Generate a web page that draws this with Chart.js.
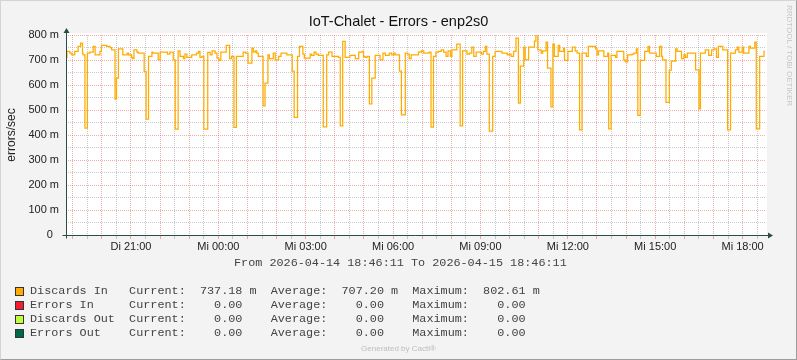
<!DOCTYPE html>
<html>
<head>
<meta charset="utf-8">
<script src="https://cdn.jsdelivr.net/npm/chart.js@4.4.1/dist/chart.umd.min.js"></script>
<style>
  html, body { margin: 0; padding: 0; background: #fff; }
  #frame { position: relative; width: 797px; height: 360px; background: #f3f3f3; overflow: hidden;
           font-family: "Liberation Sans", Arial, sans-serif; }
  #chart { position: absolute; left: 0; top: 0; }
  #edge { position: absolute; left: 0; top: 0; width: 797px; height: 360px; box-sizing: border-box;
          border: 1px solid; border-color: #d4d4d4 #9c9c9c #9c9c9c #d4d4d4; pointer-events: none; }
  .mono { position: absolute; font-family: "Liberation Mono", "DejaVu Sans Mono", monospace;
          font-size: 11.8px; line-height: 14px; color: #444; white-space: pre; }
  #range { left: 234px; top: 256px; }
  #legend { left: 15px; top: 284px; }
  .row { position: relative; height: 14px; }
  .swatch { position: absolute; left: 0; top: 3px; width: 7px; height: 7px; border: 1px solid #333; }
  .row span.txt { position: absolute; left: 15px; top: 0; }
  #cacti { position: absolute; left: 0; width: 797px; top: 344px; text-align: center;
           font-size: 8px; line-height: 10px; color: #bdbdbd; }
  #rrd { position: absolute; left: 784px; top: 5px; writing-mode: vertical-rl; font-size: 8px;
         line-height: 10px; color: #c6c6c6; white-space: nowrap; }
</style>
</head>
<body>
<div id="frame">
  <canvas id="chart" width="797" height="360"></canvas>
  <div id="range" class="mono"></div>
  <div id="legend" class="mono"></div>
  <div id="cacti">Generated by Cacti®</div>
  <div id="rrd">RRDTOOL / TOBI OETIKER</div>
  <div id="edge"></div>
</div>
<script>
// Discards In, minutes after 2026-04-14 18:46:11 (value holds until next entry), in milli errors/sec
const discardsInMin = [
    0, 2, 8, 12, 18, 25, 30, 34, 35, 39,
    44, 49, 56, 60, 70, 73, 84, 91, 94, 101,
    104, 108, 117, 126, 129, 135, 137, 140, 146, 149,
    161, 165, 170, 177, 179, 190, 194, 209, 214, 221,
    225, 231, 235, 242, 245, 249, 259, 269, 273, 276,
    280, 284, 292, 297, 301, 307, 311, 315, 319, 330,
    337, 341, 346, 351, 365, 370, 375, 383, 386, 390,
    393, 396, 406, 410, 416, 419, 427, 431, 438, 443,
    455, 466, 470, 477, 481, 488, 491, 503, 506, 511,
    515, 520, 530, 537, 541, 548, 561, 565, 570, 575,
    585, 596, 603, 610, 613, 616, 620, 625, 630, 637,
    647, 653, 658, 666, 671, 675, 678, 687, 691, 699,
    704, 707, 711, 726, 732, 737, 748, 752, 757, 762,
    767, 773, 778, 783, 787, 792, 795, 805, 812, 817,
    826, 831, 836, 840, 845, 856, 860, 864, 867, 872,
    879, 884, 898, 909, 913, 917, 922, 927, 932, 936,
    943, 946, 953, 965, 968, 972, 979, 982, 989, 992,
    999, 1003, 1006, 1014, 1017, 1025, 1027, 1034, 1043, 1049,
    1053, 1058, 1063, 1072, 1076, 1091, 1094, 1097, 1108, 1116,
    1118, 1123, 1132, 1135, 1149, 1152, 1157, 1166, 1170, 1175,
    1178, 1183, 1192, 1199, 1202, 1216, 1223, 1227, 1229, 1236,
    1243, 1247, 1256, 1259, 1268, 1273, 1276, 1280, 1297, 1304,
    1307, 1317, 1324, 1330, 1335, 1340, 1344, 1353, 1363, 1369,
    1379, 1383, 1386, 1393, 1396, 1407, 1410, 1419, 1422, 1429,
    1438, 1440
];
const discardsIn = [
    711, 735, 728, 721, 735, 755, 768, 728, 721, 428,
    728, 732, 755, 721, 735, 759, 755, 750, 741, 544,
    628, 745, 721, 728, 721, 711, 706, 741, 732, 728,
    655, 464, 715, 732, 728, 701, 732, 724, 732, 701,
    424, 737, 715, 706, 724, 711, 721, 728, 735, 711,
    715, 424, 731, 721, 737, 728, 708, 699, 732, 759,
    706, 715, 431, 715, 732, 728, 688, 748, 732, 737,
    728, 715, 517, 608, 721, 706, 728, 701, 715, 728,
    721, 656, 471, 715, 755, 724, 708, 724, 719, 732,
    724, 719, 433, 721, 732, 715, 711, 437, 775, 711,
    719, 706, 732, 735, 715, 711, 715, 525, 628, 719,
    701, 728, 719, 728, 721, 728, 721, 656, 481, 728,
    724, 706, 721, 732, 737, 728, 732, 432, 715, 732,
    735, 741, 732, 715, 737, 715, 741, 764, 437, 737,
    724, 728, 752, 715, 732, 724, 735, 755, 724, 416,
    715, 735, 728, 721, 724, 715, 735, 788, 528, 676,
    752, 701, 752, 776, 802.61, 741, 728, 737, 772, 668,
    513, 764, 715, 759, 735, 748, 699, 735, 752, 737,
    728, 421, 728, 715, 755, 745, 721, 737, 715, 728,
    425, 719, 711, 735, 701, 693, 721, 724, 728, 745,
    479, 699, 735, 755, 728, 715, 755, 715, 701, 531,
    660, 696, 745, 735, 706, 721, 711, 728, 661, 505,
    728, 741, 719, 741, 745, 711, 755, 741, 421, 728,
    741, 752, 732, 752, 728, 755, 748, 772, 425, 715,
    735, 737
];

const startClock = 18 + 46 / 60 + 11 / 3600;   // 18:46:11
const labelHours = [21, 24, 27, 30, 33, 36, 39, 42];
const timeLabels = ["Di 21:00", "Mi 00:00", "Mi 03:00", "Mi 06:00", "Mi 09:00", "Mi 12:00", "Mi 15:00", "Mi 18:00"];
const yTickValues = [0, 100, 200, 300, 400, 500, 600, 700, 800];

const legendNames = ["Discards In", "Errors In", "Discards Out", "Errors Out"];
const legendColors = ["#FFAB00", "#F51D30", "#C4FD3D", "#00694A"];
const legendCurrent = ["737.18 m", "0.00", "0.00", "0.00"];
const legendAverage = ["707.20 m", "0.00", "0.00", "0.00"];
const legendMaximum = ["802.61 m", "0.00", "0.00", "0.00"];

const MAJOR_GRID = "rgba(225, 70, 70, 0.45)";
const MINOR_GRID = "rgba(150, 150, 150, 0.5)";
const AXIS_COLOR = "#2C4D43";

// half hour grid, red on full hours
const gridHours = [];
for (let h = 19; h <= 42.5; h += 0.5) gridHours.push(h);
const toMin = h => (h - startClock) * 60;
function isFullHour(v) {
    const f = (v / 60 + startClock) % 1;
    return f < 0.01 || f > 0.99;
}

const plotBg = {
    id: "plotBg",
    beforeDraw(chart) {
        const { ctx, chartArea: a } = chart;
        ctx.save();
        ctx.fillStyle = "#fff";
        ctx.fillRect(a.left, a.top - 2, a.right - a.left + 2, a.bottom - a.top + 2);
        ctx.restore();
    }
};

const axisArrows = {
    id: "axisArrows",
    afterDatasetsDraw(chart) {
        const { ctx, chartArea: a } = chart;
        const x0 = Math.round(a.left) + 0.5, y0 = Math.round(a.bottom) + 0.5;
        ctx.save();
        ctx.strokeStyle = AXIS_COLOR;
        ctx.fillStyle = AXIS_COLOR;
        ctx.lineWidth = 1;
        ctx.beginPath();
        ctx.moveTo(x0, y0 + 3);
        ctx.lineTo(x0, a.top - 2);
        ctx.moveTo(x0 - 4, y0);
        ctx.lineTo(a.right + 3, y0);
        ctx.stroke();
        ctx.beginPath();
        ctx.moveTo(x0 - 3, a.top - 2);
        ctx.lineTo(x0 + 3, a.top - 2);
        ctx.lineTo(x0, a.top - 7);
        ctx.closePath();
        ctx.fill();
        ctx.beginPath();
        ctx.moveTo(a.right + 3, y0 - 3);
        ctx.lineTo(a.right + 3, y0 + 3);
        ctx.lineTo(a.right + 8, y0);
        ctx.closePath();
        ctx.fill();
        ctx.restore();
    }
};

Chart.defaults.font.family = '"Liberation Sans", Arial, sans-serif';

const config = {
    type: "line",
    data: {
        datasets: [
            {
                label: "Discards In",
                data: discardsInMin.map((m, i) => ({ x: m, y: discardsIn[i] })),
                borderColor: legendColors[0],
                borderWidth: 1.25,
                stepped: "before",
                pointRadius: 0,
                fill: false
            }
        ]
    },
    options: {
        responsive: false,
        animation: false,
        events: [],
        layout: {
            padding: { left: 0, right: 0, top: 0, bottom: 105 }
        },
        plugins: {
            legend: { display: false },
            tooltip: { enabled: false },
            title: {
                display: true,
                text: "IoT-Chalet - Errors - enp2s0",
                color: "#111",
                font: { size: 14.5, weight: "normal", lineHeight: 1 },
                padding: { top: 15, bottom: 5.5 }
            }
        },
        scales: {
            x: {
                type: "linear",
                min: 0,
                max: 1440,
                afterBuildTicks(scale) {
                    scale.ticks = gridHours.map(h => ({ value: toMin(h) }));
                },
                afterFit(scale) {
                    scale.height = 20;
                },
                ticks: {
                    autoSkip: false,
                    maxRotation: 0,
                    padding: 1,
                    color: "#222",
                    font: { size: 11 },
                    callback: function(value) {
                        const h = Math.round(value / 60 + startClock);
                        const i = labelHours.indexOf(h);
                        return i >= 0 && Math.abs(value - toMin(h)) < 1 ? timeLabels[i] : "";
                    }
                },
                grid: {
                    color: c => (c.tick && isFullHour(c.tick.value) ? MAJOR_GRID : MINOR_GRID),
                    tickColor: c => (c.tick && isFullHour(c.tick.value) ? MAJOR_GRID : MINOR_GRID),
                    tickLength: 4,
                    lineWidth: 1
                },
                border: { display: false, dash: [1, 1] }
            },
            y: {
                min: 0,
                max: 800,
                afterFit(scale) {
                    scale.width = 66;
                },
                ticks: {
                    stepSize: 50,
                    autoSkip: false,
                    padding: 7,
                    color: "#222",
                    font: { size: 11 },
                    callback: function(value) {
                        if (!yTickValues.includes(value)) return "";
                        return value === 0 ? "0  " : value + " m";
                    }
                },
                title: {
                    display: true,
                    text: "errors/sec",
                    color: "#222",
                    font: { size: 12 },
                    padding: { top: 4, bottom: 0 }
                },
                grid: {
                    color: c => (c.tick && c.tick.value % 100 === 0 ? MAJOR_GRID : MINOR_GRID),
                    drawTicks: false,
                    lineWidth: 1
                },
                border: { display: false, dash: [1, 1] }
            },
            // empty strip on the right so the title stays centred on the whole picture
            yRight: {
                position: "right",
                min: 0,
                max: 800,
                afterFit(scale) {
                    scale.width = 32;
                },
                ticks: { display: false },
                grid: { display: false, drawOnChartArea: false },
                border: { display: false }
            }
        }
    },
    plugins: [plotBg, axisArrows]
};

const myChart = new Chart(document.getElementById("chart"), config);

// text below the graph
document.getElementById("range").textContent = "From 2026-04-14 18:46:11 To 2026-04-15 18:46:11";

function fmt(s) {
    const parts = s.split(" ");
    return parts[0].padStart(6) + " " + (parts[1] || " ");
}

const legend = document.getElementById("legend");
legendNames.forEach((name, i) => {
    const row = document.createElement("div");
    row.className = "row";
    const sw = document.createElement("div");
    sw.className = "swatch";
    sw.style.background = legendColors[i];
    const txt = document.createElement("span");
    txt.className = "txt";
    txt.textContent = name.padEnd(14) + "Current:  " + fmt(legendCurrent[i]) +
        "  Average:  " + fmt(legendAverage[i]) + "  Maximum:  " + fmt(legendMaximum[i]);
    row.appendChild(sw);
    row.appendChild(txt);
    legend.appendChild(row);
});
</script>
</body>
</html>
